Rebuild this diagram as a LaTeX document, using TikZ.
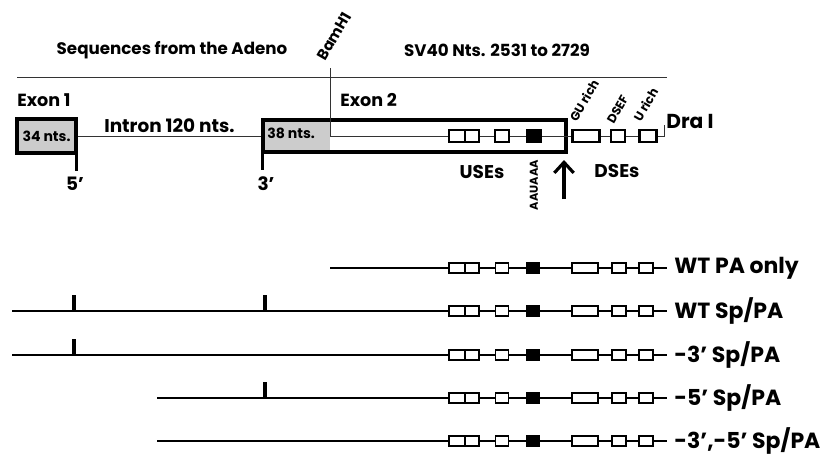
\documentclass[tikz,border=0pt]{standalone}
\usepackage{fontspec}
\setmainfont{Poppins}
\usepackage{tikz}
\usetikzlibrary{positioning, arrows.meta, calc}
\tikzset{
    lbl/.style={
        font=\fontsize{9}{11}\selectfont\bfseries,
        inner sep=0pt
    },
    rowlbl/.style={
        font=\fontsize{12.5}{14}\selectfont\bfseries,
        inner sep=0pt,
        anchor=west
    },
    slant/.style={
        font=\fontsize{7}{8}\selectfont\bfseries,
        inner sep=0pt,
        anchor=south west,
        rotate=60
    },
    exon/.style={
        draw=black,
        line width=2.2pt,
        inner sep=0pt
    },
    stipple/.style={
        fill=black!20
    },
    thinline/.style={
        line width=0.5pt,
        black!80
    },
    rowline/.style={
        line width=1.2pt
    },
    tick/.style={
        line width=1.8pt
    },
    elem/.style={
        draw=black,
        line width=1.1pt,
        fill=white,
        inner sep=0pt,
        minimum height=0.2cm,
        minimum width=#1
    },
    topelem/.style={
        elem=#1,
        line width=1.6pt,
        minimum height=0.24cm
    }
}

\begin{document}
\begin{tikzpicture}[x=0.02cm, y=-0.02cm]
\useasboundingbox (0,0) rectangle (830,470);

%---------------- Header ----------------

\node[lbl, font=\fontsize{9.5}{11}\selectfont\bfseries] (adeno) at (172,50) {Sequences from the Adeno};
\node[lbl, font=\fontsize{9.5}{11}\selectfont\bfseries] (sv40) at (497,50) {SV40 Nts. 2531 to 2729};
\coordinate (rl) at (17,77);
\coordinate (rr) at (667,77);
\draw[thinline] (rl) -- (rr);

%---------------- Exons ----------------

\fill[stipple] (263,120) rectangle (330,152);
\node[exon, stipple, minimum width=1.18cm, minimum height=0.68cm] (ex1) at (46.5,136) {};
\node[exon, minimum width=6.06cm, minimum height=0.64cm] (ex2) at (414.5,136) {};
\node[lbl, font=\fontsize{8}{9}\selectfont\bfseries] (n34) at (ex1) {34 nts.};
\node[lbl, font=\fontsize{8}{9}\selectfont\bfseries, anchor=west] (n38) at (267,133) {38 nts.};

\node[lbl, anchor=west, font=\fontsize{10}{12}\selectfont\bfseries] (e1) at (17,100) {Exon 1};
\node[lbl, anchor=west, font=\fontsize{10}{12}\selectfont\bfseries] (e2) at (340,100) {Exon 2};
\node[lbl, anchor=west, font=\fontsize{10.5}{12}\selectfont\bfseries] (intr) at (104,126) {Intron 120 nts.};

\draw[thinline] (ex1.east) -- (ex2.west);

\draw[tick] ([xshift=-1pt]ex1.south east) -- ++(0,16);
\draw[tick] ([xshift=1pt]ex2.south west) -- ++(0,16);
\node[lbl, font=\fontsize{10.5}{12}\selectfont\bfseries] (p5) at (75,184) {5’};
\node[lbl, font=\fontsize{10.5}{12}\selectfont\bfseries] (p3) at (266,184) {3’};

%---------------- BamH1 to Dra I ----------------

\coordinate (bamtop) at (330,68);
\coordinate (bam) at (330,136);
\coordinate (dra) at (664,136);
\coordinate (dratop) at (664,125);
\draw[thinline] (bamtop) -- (bam) -- (dra) -- (dratop);
\node[slant, font=\fontsize{8.5}{10}\selectfont\bfseries] (bamlbl) at (326,62) {BamH1};
\node[lbl, anchor=west, font=\fontsize{11.5}{13}\selectfont\bfseries] (dralbl) at (666,121) {Dra I};

\foreach \n/\x/\w/\f in {ua/457/0.32/white, ub/472/0.28/white, uc/502/0.28/white,
                        pa/534/0.26/black, gu/586/0.54/white, ds/618/0.28/white, ur/648/0.34/white}
    \node[topelem=\w cm, fill=\f] (\n0) at (\x,136) {};

\node[slant] (gulbl) at (577,123) {GU rich};
\node[slant] (dslbl) at (614,125) {DSEF};
\node[slant] (urlbl) at (641,123) {U rich};

\node[lbl, font=\fontsize{10.5}{12}\selectfont\bfseries] (uses) at (482,172) {USEs};
\node[lbl, font=\fontsize{10.5}{12}\selectfont\bfseries] (dses) at (617,171) {DSEs};
\node[lbl, rotate=90, font=\fontsize{6.5}{8}\selectfont\bfseries] (aau) at (534,185) {AAUAAA};

\coordinate (cs) at (564,199);
\coordinate (ce) at (564,160);
\draw[-{Straight Barb[length=6pt, width=11pt]}, line width=1.8pt] (cs) -- (ce);

%---------------- Constructs ----------------

\coordinate (r1s) at (330,268); \coordinate (r1e) at (667,268);
\coordinate (r2s) at (12,311);  \coordinate (r2e) at (667,311);
\coordinate (r3s) at (12,355);  \coordinate (r3e) at (667,355);
\coordinate (r4s) at (157,398); \coordinate (r4e) at (667,398);
\coordinate (r5s) at (157,441); \coordinate (r5e) at (667,441);

\draw[rowline] (r1s) -- (r1e);
\draw[rowline] (r2s) -- (r2e);
\draw[rowline] (r3s) -- (r3e);
\draw[rowline] (r4s) -- (r4e);
\draw[rowline] (r5s) -- (r5e);

% splice sites left in
\coordinate (t2a) at (74,311);  \coordinate (t2b) at (265,311);
\coordinate (t3a) at (74,355);
\coordinate (t4b) at (265,398);
\draw[tick] (t2a) -- ++(0,-16);
\draw[tick] (t2b) -- ++(0,-16);
\draw[tick] (t3a) -- ++(0,-16);
\draw[tick] (t4b) -- ++(0,-16);

\foreach \y [count=\r] in {268,311,355,398,441}
    \foreach \n/\x/\w/\f in {ua/457/0.32/white, ub/472/0.28/white, uc/502/0.26/white,
                            pa/533/0.24/black, gu/585/0.52/white, ds/619/0.28/white, ur/646/0.28/white}
        \node[elem=\w cm, fill=\f] (\n\r) at (\x,\y) {};

\node[rowlbl] (l1) at (674,268) {WT PA only};
\node[rowlbl] (l2) at (674,311) {WT Sp/PA};
\node[rowlbl] (l3) at (674,355) {-3’ Sp/PA};
\node[rowlbl] (l4) at (674,398) {-5’ Sp/PA};
\node[rowlbl] (l5) at (674,441) {-3’,-5’ Sp/PA};

\end{tikzpicture}
\end{document}
